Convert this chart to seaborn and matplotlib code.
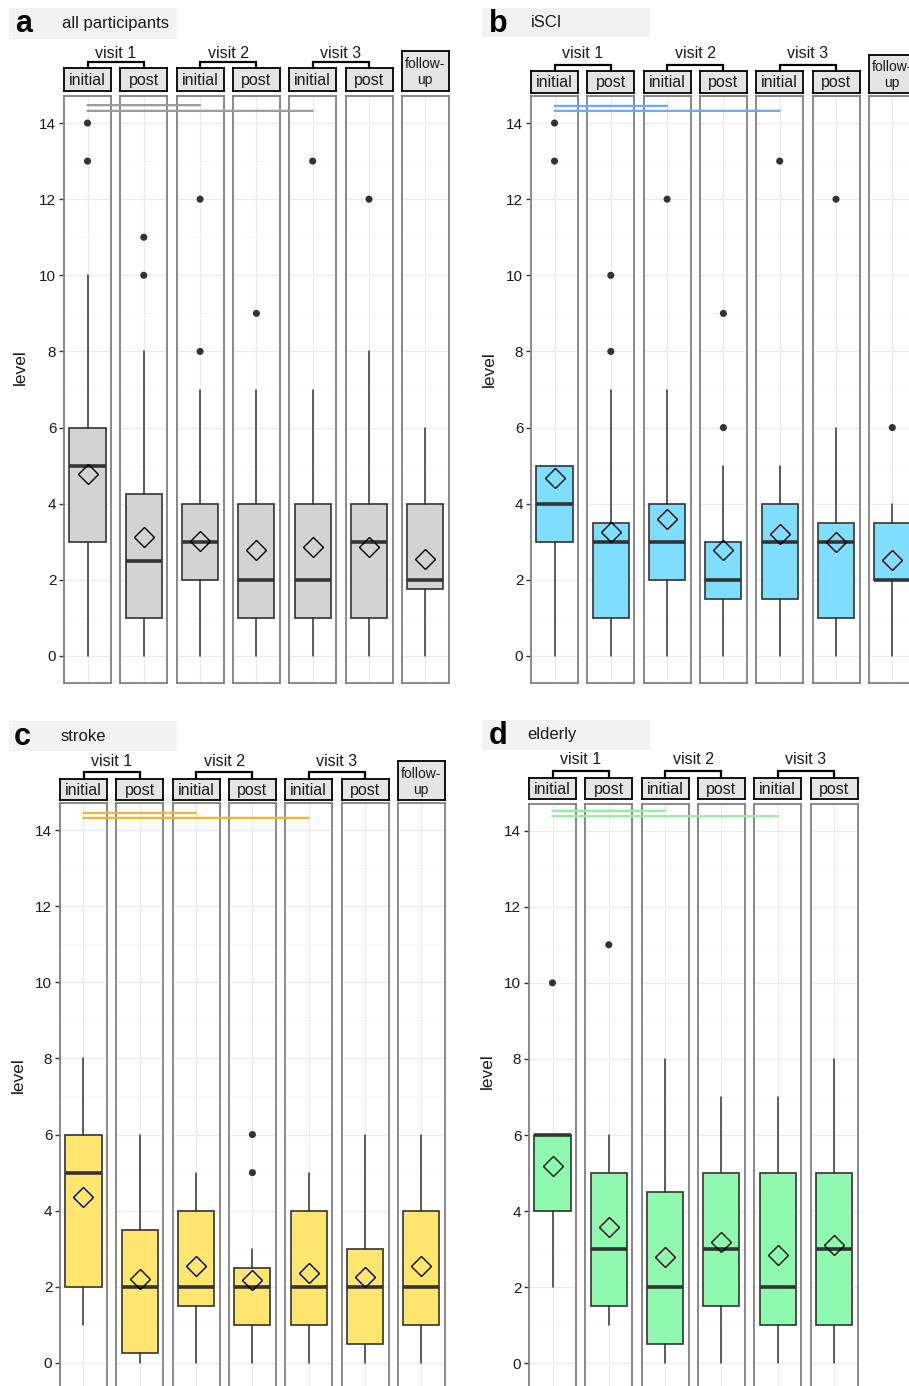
import matplotlib
matplotlib.use("Agg")
import matplotlib.pyplot as plt
import seaborn as sns
from matplotlib.patches import Rectangle, ConnectionPatch
from matplotlib.lines import Line2D

sns.set_theme(style="whitegrid")
plt.rcParams["font.family"] = ["Liberation Sans", "DejaVu Sans"]

# ---------------------------------------------------------------- data
stages = ["initial", "post", "initial", "post", "initial", "post", "follow-\nup"]
visits = ["visit 1", "visit 2", "visit 3"]

# all participants
all_q1 = [3, 1, 2, 1, 1, 1, 1.75]
all_med = [5, 2.5, 3, 2, 2, 3, 2]
all_q3 = [6, 4.25, 4, 4, 4, 4, 4]
all_lo = [0, 0, 0, 0, 0, 0, 0]
all_hi = [10, 8, 7, 7, 7, 8, 6]
all_mean = [4.78, 3.13, 3.02, 2.78, 2.86, 2.86, 2.55]
all_out = [[13, 14], [10, 11], [8, 12], [9], [13], [12], []]

# iSCI
isci_q1 = [3, 1, 2, 1.5, 1.5, 1, 2]
isci_med = [4, 3, 3, 2, 3, 3, 2]
isci_q3 = [5, 3.5, 4, 3, 4, 3.5, 3.5]
isci_lo = [0, 0, 0, 0, 0, 0, 0]
isci_hi = [5, 7, 7, 5, 5, 6, 4]
isci_mean = [4.67, 3.26, 3.60, 2.78, 3.21, 3.00, 2.53]
isci_out = [[13, 14], [8, 10], [12], [6, 9], [13], [12], [6]]

# stroke
stroke_q1 = [2, 0.25, 1.5, 1, 1, 0.5, 1]
stroke_med = [5, 2, 2, 2, 2, 2, 2]
stroke_q3 = [6, 3.5, 4, 2.5, 4, 3, 4]
stroke_lo = [1, 0, 0, 0, 0, 0, 0]
stroke_hi = [8, 6, 5, 3, 5, 6, 6]
stroke_mean = [4.36, 2.20, 2.54, 2.18, 2.36, 2.27, 2.54]
stroke_out = [[], [], [], [5, 6], [], [], []]

# elderly (no follow-up)
eld_q1 = [4, 1.5, 0.5, 1.5, 1, 1]
eld_med = [6, 3, 2, 3, 2, 3]
eld_q3 = [6, 5, 4.5, 5, 5, 5]
eld_lo = [2, 1, 0, 0, 0, 0]
eld_hi = [6, 6, 8, 7, 7, 8]
eld_mean = [5.19, 3.59, 2.80, 3.19, 2.86, 3.12]
eld_out = [[10], [11], [], [], [], []]

# significance brackets: (target facet index, y level)
all_sig = [(2, 14.47), (4, 14.32)]
isci_sig = [(2, 14.45), (4, 14.32)]
stroke_sig = [(2, 14.45), (4, 14.32)]
eld_sig = [(2, 14.52), (4, 14.38)]

# ---------------------------------------------------------------- layout
W, H = 909, 1386
fig = plt.figure(figsize=(W / 100, H / 100), dpi=100)
fig.patch.set_facecolor("white")


def fx(x):
    return x / W


def fy(y):
    return 1 - y / H


panels = [
    dict(letter="a", title="all participants", fill="#d3d3d3", sig_color="#9b9b9b",
         q1=all_q1, med=all_med, q3=all_q3, lo=all_lo, hi=all_hi, mean=all_mean,
         out=all_out, sig=all_sig, left=64, top=96.4, bottom=682.6,
         strip=(68, 91), fu_top=51, bracket=62, vlabel=53,
         tbox=(9, 8, 177, 39), letter_x=15, title_x=62, ylab_x=20),
    dict(letter="b", title="iSCI", fill="#7fdefd", sig_color="#6eabf2",
         q1=isci_q1, med=isci_med, q3=isci_q3, lo=isci_lo, hi=isci_hi, mean=isci_mean,
         out=isci_out, sig=isci_sig, left=531, top=96.4, bottom=682.6,
         strip=(71, 93), fu_top=55, bracket=65, vlabel=53,
         tbox=(482, 8, 650, 37), letter_x=489, title_x=531, ylab_x=489),
    dict(letter="c", title="stroke", fill="#ffe66e", sig_color="#f4b535",
         q1=stroke_q1, med=stroke_med, q3=stroke_q3, lo=stroke_lo, hi=stroke_hi,
         mean=stroke_mean, out=stroke_out, sig=stroke_sig, left=60, top=803.4,
         bottom=1389.6, strip=(779, 800), fu_top=761, bracket=772, vlabel=762,
         tbox=(9, 721, 177, 751), letter_x=14, title_x=61, ylab_x=18),
    dict(letter="d", title="elderly", fill="#90f9b0", sig_color="#93ef9d",
         q1=eld_q1, med=eld_med, q3=eld_q3, lo=eld_lo, hi=eld_hi, mean=eld_mean,
         out=eld_out, sig=eld_sig, left=529, top=804, bottom=1390,
         strip=(778, 799), fu_top=760, bracket=771, vlabel=760,
         tbox=(482, 720, 650, 750), letter_x=489, title_x=527, ylab_x=487),
]

PITCH = 56.3
FW = 47
EDGE = "#333333"

for p in panels:
    n = len(p["q1"])
    axes = []
    for i in range(n):
        x0 = p["left"] + i * PITCH
        ax = fig.add_axes([fx(x0), fy(p["bottom"]), FW / W, (p["bottom"] - p["top"]) / H])
        ax.set_facecolor("white")

        stats = [dict(q1=p["q1"][i], med=p["med"][i], q3=p["q3"][i],
                      whislo=p["lo"][i], whishi=p["hi"][i], mean=p["mean"][i], fliers=[])]
        ax.bxp(stats, positions=[1], widths=0.92, patch_artist=True,
               showmeans=True, showcaps=False, showfliers=False,
               boxprops=dict(facecolor=p["fill"], edgecolor=EDGE, linewidth=1.2),
               medianprops=dict(color=EDGE, linewidth=2.6, solid_capstyle="butt"),
               whiskerprops=dict(color=EDGE, linewidth=1.1),
               meanprops=dict(marker="D", markerfacecolor="none", markeredgecolor="black",
                              markersize=10.5, markeredgewidth=1.0))
        if p["out"][i]:
            sns.scatterplot(x=[1] * len(p["out"][i]), y=p["out"][i], ax=ax,
                            color=EDGE, s=26, edgecolor="none", legend=False, zorder=5)

        ax.set_xlim(0.4, 1.6)
        ax.set_ylim(-0.7, 14.7)
        ax.set_yticks(range(0, 15, 2))
        ax.set_yticks(range(1, 15, 2), minor=True)
        ax.set_xticks([1])
        ax.set_xticklabels([])
        ax.set_xlabel("")
        ax.set_ylabel("")
        ax.grid(True, which="major", color="#ebebeb", lw=0.9)
        ax.grid(True, which="minor", axis="y", color="#f5f5f5", lw=0.6)
        ax.set_axisbelow(True)
        for s in ax.spines.values():
            s.set_visible(True)
            s.set_color("#808080")
            s.set_linewidth(1.3)
        ax.tick_params(axis="x", length=0, labelbottom=False)
        ax.tick_params(axis="y", which="minor", length=0)
        if i == 0:
            ax.tick_params(axis="y", which="major", left=True, length=3.5, width=1,
                           color=EDGE, labelsize=11, pad=2, labelcolor="#1a1a1a")
        else:
            ax.tick_params(axis="y", which="major", left=False, labelleft=False, length=0)
        axes.append(ax)

        # strip label above each facet
        st_top = p["strip"][0] if i < 6 else p["fu_top"]
        st_bot = p["strip"][1]
        sax = fig.add_axes([fx(x0), fy(st_bot), FW / W, (st_bot - st_top) / H])
        sax.set_facecolor("#e5e5e5")
        sax.set_xticks([])
        sax.set_yticks([])
        sax.grid(False)
        for s in sax.spines.values():
            s.set_visible(True)
            s.set_color("black")
            s.set_linewidth(1.3)
        sax.text(0.5, 0.47, stages[i], ha="center", va="center",
                 fontsize=11.5 if i < 6 else 10, color="#1a1a1a",
                 transform=sax.transAxes, linespacing=1.2)

    # visit brackets and labels
    for k in range(3):
        cx0 = p["left"] + 2 * k * PITCH + FW / 2
        cx1 = cx0 + PITCH
        fig.add_artist(Line2D([fx(cx0), fx(cx0), fx(cx1), fx(cx1)],
                              [fy(p["strip"][0]), fy(p["bracket"]), fy(p["bracket"]), fy(p["strip"][0])],
                              transform=fig.transFigure, color="black", lw=1.6,
                              solid_joinstyle="miter"))
        fig.text(fx((cx0 + cx1) / 2), fy(p["vlabel"]), visits[k], ha="center", va="center",
                 fontsize=11.5, color="#1a1a1a")

    # significance lines between facets
    for target, yv in p["sig"]:
        con = ConnectionPatch(xyA=(1, yv), coordsA="data", axesA=axes[0],
                              xyB=(1, yv), coordsB="data", axesB=axes[target],
                              color=p["sig_color"], lw=1.6, zorder=10)
        fig.add_artist(con)

    # panel title bar
    x0, y0, x1, y1 = p["tbox"]
    fig.add_artist(Rectangle((fx(x0), fy(y1)), (x1 - x0) / W, (y1 - y0) / H,
                             transform=fig.transFigure, facecolor="#f2f2f2",
                             edgecolor="none", zorder=0))
    fig.text(fx(p["letter_x"]), fy((y0 + y1) / 2 + 1), p["letter"], ha="left", va="center",
             fontsize=22, fontweight="bold", color="black")
    fig.text(fx(p["title_x"]), fy((y0 + y1) / 2), p["title"], ha="left", va="center",
             fontsize=12, color="#1a1a1a")

    # y-axis title, centred over facets and strips
    ymid = (p["fu_top"] + p["bottom"]) / 2 if p["letter"] != "d" else (p["vlabel"] - 8 + p["bottom"]) / 2
    fig.text(fx(p["ylab_x"]), fy(ymid), "level", rotation=90, ha="center", va="center",
             fontsize=12.5, color="#1a1a1a")

fig.savefig("out.png", dpi=100, facecolor="white")
